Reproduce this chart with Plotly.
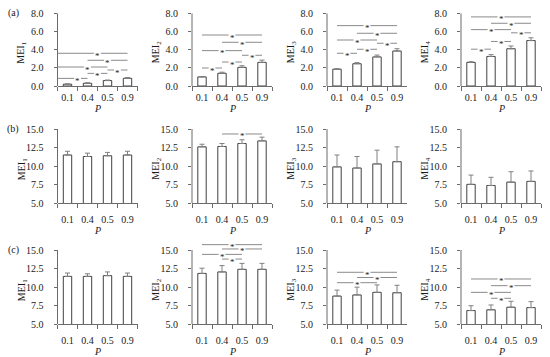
import plotly.graph_objects as go

# ---------------- data ----------------
P_VALUES = ["0.1", "0.4", "0.5", "0.9"]
ROW_TAGS = ["(a)", "(b)", "(c)"]
MEI_TITLES = ["MEI<sub>1</sub>", "MEI<sub>2</sub>", "MEI<sub>3</sub>", "MEI<sub>4</sub>"]
ROW_YTICKS = [[0, 2, 4, 6, 8], [5, 7.5, 10, 12.5, 15], [5, 7.5, 10, 12.5, 15]]

# row (a)
A_MEAN = [
    [0.20, 0.30, 0.60, 0.85],
    [1.00, 1.40, 2.05, 2.60],
    [1.85, 2.45, 3.20, 3.85],
    [2.60, 3.25, 4.10, 5.00],
]
A_ERR = [
    [0.03, 0.05, 0.06, 0.08],
    [0.04, 0.12, 0.18, 0.25],
    [0.05, 0.12, 0.20, 0.25],
    [0.07, 0.20, 0.30, 0.30],
]
# row (b)
B_MEAN = [
    [11.50, 11.30, 11.40, 11.50],
    [12.60, 12.65, 13.05, 13.40],
    [9.90, 9.75, 10.30, 10.60],
    [7.55, 7.40, 7.85, 7.95],
]
B_ERR = [
    [0.50, 0.45, 0.45, 0.50],
    [0.35, 0.40, 0.50, 0.50],
    [1.60, 1.55, 1.85, 2.00],
    [1.25, 1.10, 1.40, 1.40],
]
# row (c)
C_MEAN = [
    [11.45, 11.45, 11.55, 11.45],
    [11.85, 12.05, 12.40, 12.40],
    [8.80, 8.95, 9.30, 9.25],
    [6.85, 6.95, 7.30, 7.25],
]
C_ERR = [
    [0.45, 0.35, 0.50, 0.45],
    [0.70, 0.85, 0.80, 0.80],
    [0.80, 1.05, 1.00, 1.00],
    [0.65, 0.65, 0.80, 0.80],
]

# significance brackets: (from category index, to category index, level)
A_SIG = [
    [(0, 3, 3.60), (1, 3, 2.83), (0, 2, 2.09), (2, 3, 1.76), (1, 2, 1.39), (0, 1, 0.84)],
    [(0, 3, 5.61), (1, 3, 4.81), (0, 2, 3.89), (2, 3, 3.38), (1, 2, 2.64), (0, 1, 1.98)],
    [(0, 3, 6.64), (1, 3, 5.80), (0, 2, 5.06), (2, 3, 4.70), (1, 2, 4.04), (0, 1, 3.60)],
    [(0, 3, 7.60), (1, 3, 6.90), (0, 2, 6.20), (2, 3, 5.85), (1, 2, 4.90), (0, 1, 4.05)],
]
B_SIG = [[], [(1, 3, 14.33)], [], []]
C_SIG = [
    [],
    [(0, 3, 15.72), (1, 3, 15.14), (0, 2, 14.41), (1, 2, 13.78)],
    [(0, 3, 12.00), (1, 3, 11.30), (0, 2, 10.60)],
    [(0, 3, 11.10), (1, 3, 10.20), (0, 2, 9.30), (1, 2, 8.50)],
]

MEANS = [A_MEAN, B_MEAN, C_MEAN]
ERRS = [A_ERR, B_ERR, C_ERR]
SIGS = [A_SIG, B_SIG, C_SIG]

# ---------------- layout geometry / style ----------------
W, H = 550, 357
COL_LEFT = [57.5, 192, 327, 461]
COL_WIDTH = 80
ROW_BOTTOM = [86, 203.3, 324.3]
ROW_PPU = [9.09, 7.43, 7.43]
ROW_RANGE = [(0, 8.0), (5, 15.0), (5, 16.3)]
ROW_XLAB_STANDOFF = [2, 7, 7]
ROW_PTITLE_Y = [108, 230, 351]
LEAD = [[0.5, 0, 0, 0], [0, 0, 0, 0], [0, 0, 0, 0]]  # a1 brackets start left of first bar

FONT = "Liberation Serif"
TXT = "#1a1a1a"
AX = "#6b6b6b"
BAR_LINE = "#404040"
ERR_COL = "#808080"
SIG_COL = "#8a8a8a"
GAP = 0.17

fig = go.Figure()
layout = dict(
    width=W, height=H, margin=dict(l=0, r=0, t=0, b=0),
    paper_bgcolor="white", plot_bgcolor="white",
    font=dict(family=FONT, size=10, color=TXT),
    showlegend=False, bargap=0.58,
)
shapes, annotations = [], []


def note(x, y, text, **kw):
    d = dict(xref="paper", yref="paper", x=x, y=y, text=text, showarrow=False,
             xanchor="center", yanchor="middle", font=dict(family=FONT, size=10, color=TXT))
    d.update(kw)
    return d


k = 0
for r in range(3):
    r0, r1 = ROW_RANGE[r]
    ppu = ROW_PPU[r]
    B = ROW_BOTTOM[r]
    top_px = B - (r1 - r0) * ppu
    ydom = [1 - B / H, 1 - top_px / H]
    ytick_top_px = B - (ROW_YTICKS[r][-1] - r0) * ppu
    for c in range(4):
        k += 1
        xn = "x" if k == 1 else f"x{k}"
        yn = "y" if k == 1 else f"y{k}"
        xkey = "xaxis" if k == 1 else f"xaxis{k}"
        ykey = "yaxis" if k == 1 else f"yaxis{k}"
        L = COL_LEFT[c]
        xdom = [L / W, (L + COL_WIDTH) / W]

        fig.add_trace(go.Bar(
            x=P_VALUES, y=MEANS[r][c], xaxis=xn, yaxis=yn,
            marker=dict(color="white", line=dict(color=BAR_LINE, width=1)),
            error_y=dict(type="data", symmetric=False, array=ERRS[r][c],
                         arrayminus=[0] * 4, color=ERR_COL, thickness=1, width=2.5),
            hoverinfo="skip",
        ))

        layout[xkey] = dict(
            domain=xdom, anchor=yn, type="category", range=[-0.5, 3.5],
            tickson="boundaries", ticks="outside", ticklen=4, tickcolor=AX,
            showline=True, linecolor=AX, linewidth=1, showgrid=False, zeroline=False,
            tickangle=0, automargin=False, fixedrange=True,
            tickfont=dict(family=FONT, size=10, color=TXT),
            ticklabelstandoff=ROW_XLAB_STANDOFF[r],
        )
        layout[ykey] = dict(
            domain=ydom, anchor=xn, range=[r0, r1], tickvals=ROW_YTICKS[r],
            tickformat=".1f", ticks="outside", ticklen=3, tickcolor=AX,
            showline=False, showgrid=False, zeroline=False, automargin=False,
            fixedrange=True,
            tickfont=dict(family=FONT, size=10, color=TXT), ticklabelstandoff=8,
        )
        # y axis line (stops at top tick)
        shapes.append(dict(type="line", xref=f"{xn} domain", yref=yn,
                           x0=0, x1=0, y0=r0, y1=ROW_YTICKS[r][-1],
                           line=dict(color=AX, width=1)))
        # significance brackets
        for (i, j, lev) in SIGS[r][c]:
            mid = (i + j) / 2
            x0 = i - (LEAD[r][c] if i == 0 else 0)
            for a, b in ((x0, mid - GAP), (mid + GAP, j)):
                shapes.append(dict(type="line", xref=xn, yref=yn, x0=a, x1=b,
                                   y0=lev, y1=lev, line=dict(color=SIG_COL, width=1)))
            annotations.append(dict(xref=xn, yref=yn, x=mid, y=lev, text="*",
                                    showarrow=False, yshift=-2.5,
                                    xanchor="center", yanchor="middle",
                                    font=dict(family=FONT, size=9, color="#222")))
        # y title
        ymid_px = (B + ytick_top_px) / 2 + 3
        annotations.append(note((L - 35.5) / W, 1 - ymid_px / H, MEI_TITLES[c],
                                textangle=-90))
        # x title
        annotations.append(note((L + COL_WIDTH / 2) / W, 1 - ROW_PTITLE_Y[r] / H,
                                "<i>P</i>"))
    annotations.append(note(13 / W, 1 - ytick_top_px / H, ROW_TAGS[r]))

layout["shapes"] = shapes
layout["annotations"] = annotations
fig.update_layout(**layout)
fig.write_html("out.html", config={"displayModeBar": False},
               post_script="document.body.style.margin='0';document.body.style.overflow='hidden';")
